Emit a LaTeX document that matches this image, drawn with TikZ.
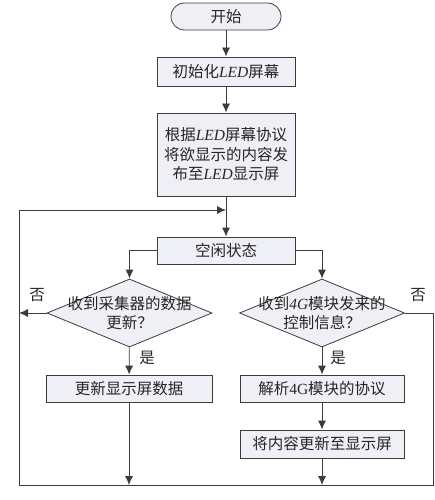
\documentclass[tikz,border=0pt]{standalone}
\usepackage{fontspec}
\setmainfont{Noto Sans CJK SC}
\newfontfamily\latin{Liberation Serif}
\usetikzlibrary{arrows.meta}
\usetikzlibrary{shapes.geometric}
\tikzset{>={Latex[length=9pt,width=8pt]}}
\definecolor{boxfill}{RGB}{238,240,246}
\definecolor{linegray}{RGB}{60,60,60}
\newcommand{\led}{{\latin\itshape LED}}

\begin{document}
\begin{tikzpicture}[x=1pt, y=-1pt, font=\fontsize{15.5}{19.5}\selectfont, text=black!85,
    line/.style={draw=linegray, line width=0.8pt},
    proc/.style={draw=linegray, line width=0.8pt, fill=boxfill, minimum height=27pt, inner sep=0pt, align=center},
    term/.style={proc, rounded corners=13.5pt, minimum width=110pt},
    decide/.style={diamond, draw=linegray, line width=0.8pt, fill=boxfill, inner sep=0pt, minimum width=165pt, minimum height=68pt}]
    \useasboundingbox (0, 0) rectangle (435, 500);
    \node[term] (start) at (226, 16.5) {开始};
    \node[proc, minimum width=138pt, minimum height=29pt] (init) at (226, 71.5) {初始化\led 屏幕};
    \node[proc, minimum width=138pt, minimum height=83pt] (pub) at (226, 154.5) {根据\led 屏幕协议\\将欲显示的内容发\\布至\led 显示屏};
    \node[proc, minimum width=138pt] (idle) at (226, 250.5) {空闲状态};
    \node[decide] (d1) at (129.5, 313) {};
    \node[align=center] at (d1) {收到采集器的数据\\更新？};
    \node[decide] (d2) at (322, 313) {};
    \node[align=center] at (d2) {收到{\latin\itshape 4G}模块发来的\\控制信息？};
    \node[proc, minimum width=166pt] (upd) at (129, 388.5) {更新显示屏数据};
    \node[proc, minimum width=164pt] (parse) at (322, 388.5) {解析{\latin 4G}模块的协议};
    \node[proc, minimum width=164pt, minimum height=28pt] (cont) at (322, 444) {将内容更新至显示屏};
    \coordinate (lb) at (19, 485);
    \coordinate (rb) at (433, 485);
    \coordinate (lt) at (19, 210);
    \coordinate (jn) at (226, 210);
    \draw[line, ->] (start) -- (init);
    \draw[line, ->] (init) -- (pub);
    \draw[line, ->] (pub) -- (idle);
    \draw[line, ->] (idle.west) -| (d1.north);
    \draw[line, ->] (idle.east) -| (d2.north);
    \draw[line, ->] (d1) -- (upd);
    \draw[line, ->] (d2) -- (parse);
    \draw[line, ->] (parse) -- (cont);
    \draw[line, ->] (upd) -- (upd |- lb);
    \draw[line, ->] (cont) -- (cont |- lb);
    \draw[line, ->] (d1.west) -- (d1.west -| lb);
    \draw[line, ->] (d2.east) -| (rb) -- (lb) -- (lt) -- (jn);
    \node at (147, 358) {是};
    \node at (338, 358) {是};
    \node at (37, 295) {否};
    \node at (418, 295) {否};
\end{tikzpicture}
\end{document}
